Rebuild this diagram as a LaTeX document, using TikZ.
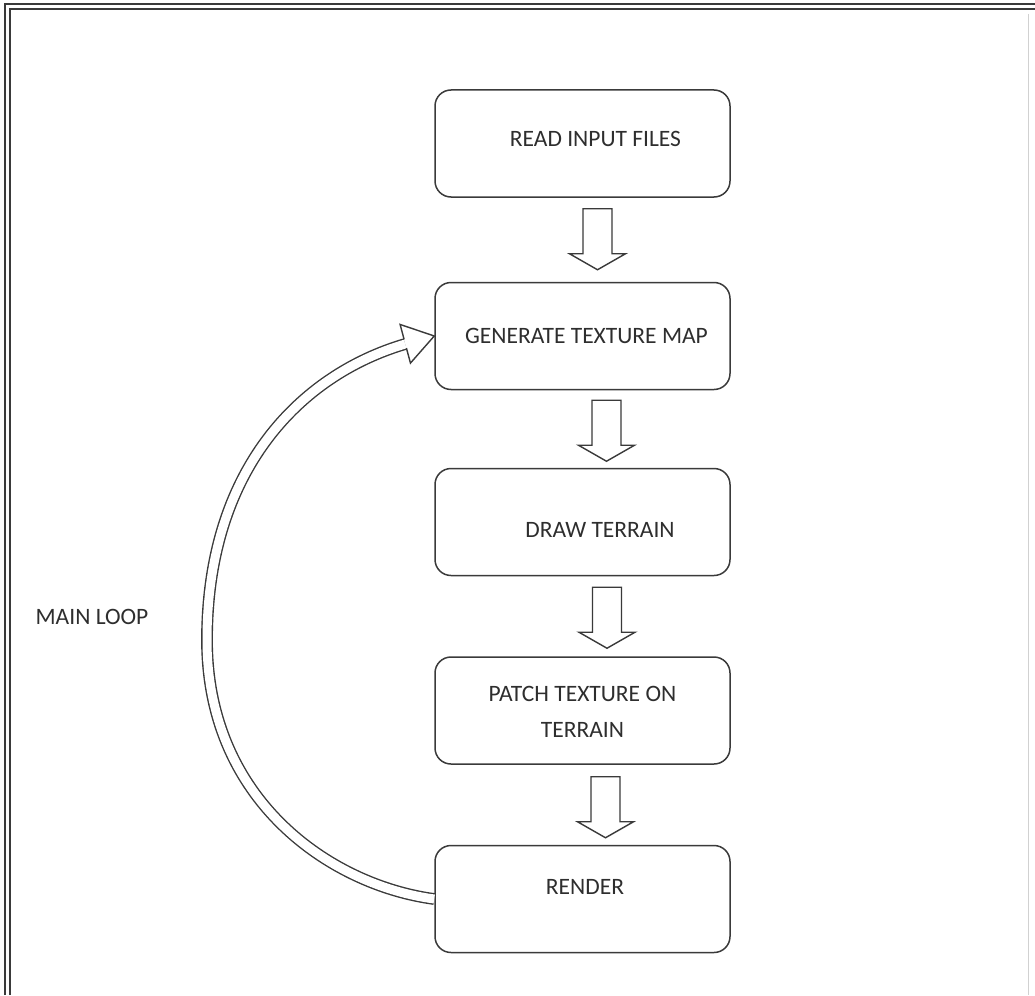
\documentclass[tikz,border=0pt]{standalone}
\usepackage{fontspec}
\setmainfont{Carlito}
\usetikzlibrary{calc}
\definecolor{ln}{HTML}{3A3A3A}
\definecolor{tx}{HTML}{2E2E2E}
\tikzset{
  boxstyle/.style={draw=ln, line width=1.5pt, rounded corners=16pt, minimum width=295pt, minimum height=107pt, inner sep=0pt},
  lbl/.style={text=tx, font=\fontsize{23.5}{30}\selectfont, inner sep=0pt, align=center},
  arrowline/.style={draw=ln, line width=1.4pt, fill=white, line join=miter},
  blockarrow/.pic={\path[arrowline] (-14.5,0) -- (-14.5,45) -- (-28,45) -- (0,61) -- (28,45) -- (14.5,45) -- (14.5,0) -- cycle;},
  frameline/.style={draw=ln, line width=2pt},
  loopline/.style={draw=ln, line width=1.4pt, double=white, double distance=9pt}
}
\begin{document}
\begin{tikzpicture}[x=1pt, y=-1pt]
\useasboundingbox (0,0) rectangle (1035,995);
% frame
\draw[frameline] (5,995) -- (5,4.5) -- (1035,4.5);
\draw[frameline] (10,995) -- (10,9.5) -- (1035,9.5);
\draw[draw=black!18, line width=1pt] (1028,14) -- (1028,995);
% boxes
\node[boxstyle] (b1) at (582.5,143.5) {};
\node[boxstyle] (b2) at (582.5,336) {};
\node[boxstyle] (b3) at (582.5,522) {};
\node[boxstyle] (b4) at (582.5,710.5) {};
\node[boxstyle] (b5) at (582.5,899) {};
% labels
\node[lbl] (t1) at (595.5,139) {READ INPUT FILES};
\node[lbl] (t2) at (586.5,336) {GENERATE TEXTURE MAP};
\node[lbl] (t3) at (600,530) {DRAW TERRAIN};
\node[lbl] (t4) at (582.5,712) {PATCH TEXTURE ON\\[6pt]TERRAIN};
\node[lbl] (t5) at (585,887) {RENDER};
\node[lbl] (tl) at (92,617) {MAIN LOOP};
% block arrows
\pic at ($(b1.south)+(15,11)$) {blockarrow};
\pic at ($(b2.south)+(24,10)$) {blockarrow};
\pic at ($(b3.south)+(24.5,11)$) {blockarrow};
\pic at ($(b4.south)+(23,12)$) {blockarrow};
% main loop
\coordinate (lm) at (207,640);
\coordinate (hb) at ($(b2.west)+(-29,8)$);
\draw[loopline] (b5.west) .. controls (330,885) and (207,800) .. (lm)
  .. controls (207,470) and (300,375) .. (hb);
\begin{scope}[shift={(b2.west)}, rotate=15]
\path[arrowline] (-30,-4.5) -- (-30,-20) -- (0,0) -- (-30,20) -- (-30,4.5);
\end{scope}
\end{tikzpicture}
\end{document}
